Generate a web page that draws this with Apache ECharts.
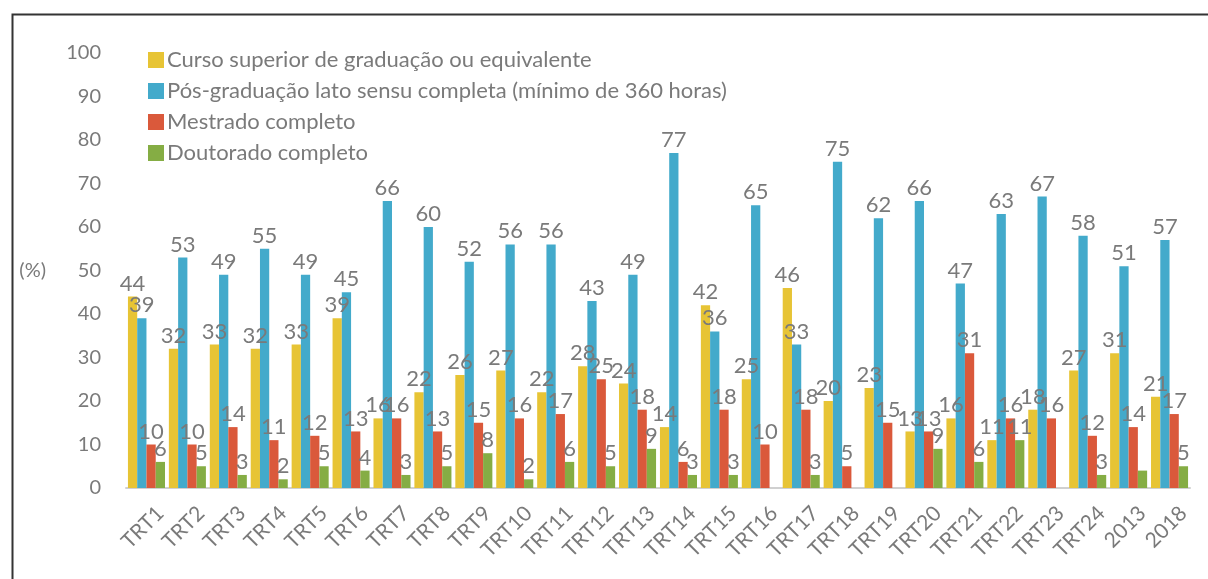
<!DOCTYPE html>
<html>
<head>
<meta charset="utf-8">
<title>Escolaridade</title>
<script src="https://cdn.jsdelivr.net/npm/echarts@6/dist/echarts.min.js"></script>
<style>
    html, body { margin: 0; padding: 0; background: #fff; }
    #chart { width: 1208px; height: 579px; }
</style>
</head>
<body>
<div id="chart"></div>
<script>
// categorias do eixo x
let categories = ['TRT1','TRT2','TRT3','TRT4','TRT5','TRT6','TRT7','TRT8','TRT9','TRT10','TRT11','TRT12','TRT13',
    'TRT14','TRT15','TRT16','TRT17','TRT18','TRT19','TRT20','TRT21','TRT22','TRT23','TRT24','2013','2018'];

// valores (%) por série
let graduacao = [44,32,33,32,33,39,16,22,26,27,22,28,24,14,42,25,46,20,23,13,16,11,18,27,31,21];
let posGraduacao = [39,53,49,55,49,45,66,60,52,56,56,43,49,77,36,65,33,75,62,66,47,63,67,58,51,57];
let mestrado = [10,10,14,11,12,13,16,13,15,16,17,25,18,6,18,10,18,5,15,13,31,16,16,12,14,17];
let doutorado = [6,5,3,2,5,4,3,5,8,2,6,5,9,3,3,null,3,null,null,9,6,11,null,3,4,5];

// rótulos que não aparecem no original
let hiddenLabels = {doutorado: ['2013']};

let yTicks = {min: 0, max: 100, interval: 10};

let seriesNames = [
    'Curso superior de graduação ou equivalente',
    'Pós-graduação lato sensu completa (mínimo de 360 horas)',
    'Mestrado completo',
    'Doutorado completo'
];
let colors = ['#E7C435', '#43AACB', '#DA593B', '#85AD44'];

let font = 'Lato, "Open Sans", sans-serif';
let grey = '#7a7a7a';

let buildData = (values, key) => values.map((v, i) => {
    let hide = hiddenLabels[key] && hiddenLabels[key].indexOf(categories[i]) >= 0;
    return hide ? {value: v, label: {show: false}} : v;
});

let makeSeries = (name, values, key) => ({
    name: name,
    type: 'bar',
    data: buildData(values, key),
    barGap: '0%',
    barCategoryGap: '9.5%',
    label: {
        show: true,
        position: 'top',
        distance: 2,
        color: grey,
        fontFamily: font,
        fontSize: 22
    },
    labelLayout: {hideOverlap: false}
});

let chart = echarts.init(document.getElementById('chart'));
let option = {
    color: colors,
    animation: false,
    textStyle: {fontFamily: font},
    legend: {
        orient: 'vertical',
        left: 143,
        top: 44,
        itemWidth: 16,
        itemHeight: 16,
        itemGap: 9,
        icon: 'rect',
        textStyle: {color: grey, fontSize: 22, fontFamily: font, padding: [0, 0, 0, -2]},
        data: seriesNames
    },
    grid: {left: 126, right: 18, top: 53, bottom: 91, containLabel: false},
    xAxis: {
        type: 'category',
        data: categories,
        axisLine: {lineStyle: {color: '#d0d0d0', width: 2}},
        axisTick: {show: false},
        axisLabel: {
            color: grey, fontSize: 21, fontFamily: font, rotate: 45, interval: 0,
            // fim do rótulo um pouco à direita do centro do grupo, como no Excel
            align: 'right', verticalAlign: 'top', margin: 8, padding: [9, 0, 0, 0]
        }
    },
    yAxis: {
        type: 'value',
        min: yTicks.min,
        max: yTicks.max,
        interval: yTicks.interval,
        name: '(%)',
        nameLocation: 'middle',
        nameRotate: 0,
        nameGap: 80,
        nameTextStyle: {color: grey, fontSize: 20, fontFamily: font},
        axisLine: {show: false},
        axisTick: {show: false},
        splitLine: {show: false},
        axisLabel: {color: grey, fontSize: 20, fontFamily: font, margin: 25}
    },
    graphic: [{
        // moldura (somente topo e esquerda visíveis)
        type: 'rect',
        left: 10,
        top: 12,
        shape: {width: 1300, height: 700},
        style: {fill: 'none', stroke: '#333', lineWidth: 2},
        silent: true
    }],
    series: [
        makeSeries(seriesNames[0], graduacao, 'graduacao'),
        makeSeries(seriesNames[1], posGraduacao, 'posGraduacao'),
        makeSeries(seriesNames[2], mestrado, 'mestrado'),
        makeSeries(seriesNames[3], doutorado, 'doutorado')
    ]
};
chart.setOption(option, true);
</script>
</body>
</html>
